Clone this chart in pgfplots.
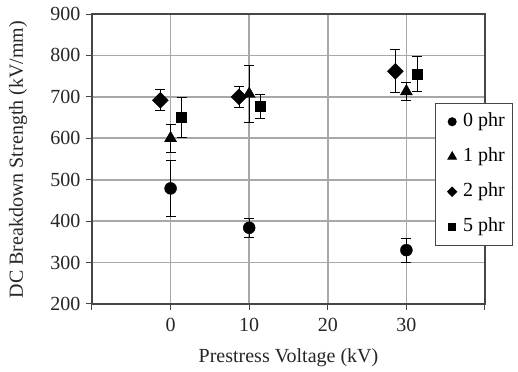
\documentclass[border=0pt]{standalone}
\usepackage{pgfplots}
\pgfplotsset{compat=1.18}
\usepackage{fontspec}
\setmainfont{Liberation Serif}
\definecolor{axisgray}{RGB}{70,70,70}
\definecolor{gridgray}{rgb}{0.66,0.66,0.66}
\pgfplotsset{
  mylegend/.style={legend image code/.code={\path[draw=none,fill=none] (0pt,-3pt) rectangle (20pt,3pt); \draw[mark repeat=2,mark phase=2,##1] plot coordinates {(0pt,0pt) (10pt,0pt) (20pt,0pt)};}},
}
\begin{document}
\begin{tikzpicture}
\begin{axis}[
  scale only axis,
  width=393pt, height=290pt,
  xmin=-10, xmax=40, ymin=200, ymax=900,
  xtick={-10,0,10,20,30,40},
  xticklabels={,0,10,20,30,},
  ytick={200,300,...,900},
  xmajorgrids=true, ymajorgrids=true,
  major grid style={color=gridgray, line width=1.6pt},
  axis line style={axisgray, line width=1.1pt},
  tick align=outside,
  tick pos=left,
  major tick length=6pt,
  major tick style={axisgray, line width=1pt},
  every tick label/.append style={font=\fontsize{20}{24}\selectfont, text=black!85},
  /pgf/number format/assume math mode=true,
  xticklabel style={yshift=-5pt},
  yticklabel style={xshift=-2pt},
  label style={font=\fontsize{20}{24}\selectfont, text=black!85},
  xlabel={Prestress Voltage (kV)},
  ylabel={DC Breakdown Strength (kV/mm)},
  xlabel style={at={(axis description cs:0.5,-0.186)}, anchor=center},
  ylabel style={at={(axis description cs:-0.188,0.498)}, anchor=center, rotate=0},
  legend style={at={(rel axis cs:0.872,0.694)}, anchor=north west,
    draw=axisgray, line width=1pt, fill=white,
    font=\fontsize{20}{24}\selectfont,
    inner xsep=7pt, inner ysep=8pt, row sep=14pt, column sep=0pt,
    nodes={text height=14pt, text depth=5pt, inner sep=1pt}},
  legend cell align=left,
  error bars/y dir=both, error bars/y explicit,
  error bars/error bar style={black, line width=0.9pt},
  error bars/error mark options={rotate=90, mark size=5pt, black, line width=0.9pt},
]
\addplot[only marks, mylegend, mark=*, mark size=6pt, black,
  legend image post style={mark size=4pt}]
  table[x=x, y=y, y error=e] {
x y e
0 479 68
10 384 23
30 330 29
};
\addlegendentry{0 phr\hspace{4pt}}
\addplot[only marks, mylegend, mark=triangle*, mark size=7pt, black,
  legend image post style={mark size=4.8pt}]
  table[x=x, y=y, y error=e] {
x y e
0 600 34
10 707 68
30 713 21
};
\addlegendentry{1 phr\hspace{4pt}}
\addplot[only marks, mylegend, mark=diamond*, mark size=8pt, black, mark options={xscale=1.33},
  legend image post style={mark size=4.5pt}]
  table[x=x, y=y, y error=e] {
x y e
-1.3 692 25
8.7 700 25
28.6 762 52
};
\addlegendentry{2 phr\hspace{4pt}}
\addplot[only marks, mylegend, mark=square*, mark size=5pt, black,
  legend image post style={mark size=3.5pt}]
  table[x=x, y=y, y error=e] {
x y e
1.4 650 48
11.4 678 29
31.4 755 42
};
\addlegendentry{5 phr\hspace{4pt}}
\coordinate (bbll) at (rel axis cs:-0.2341,-0.2345);
\coordinate (bbur) at (rel axis cs:1.0840,1.0483);
\end{axis}
\pgfresetboundingbox
\path[use as bounding box] (bbll) rectangle (bbur);
\end{tikzpicture}
\end{document}
